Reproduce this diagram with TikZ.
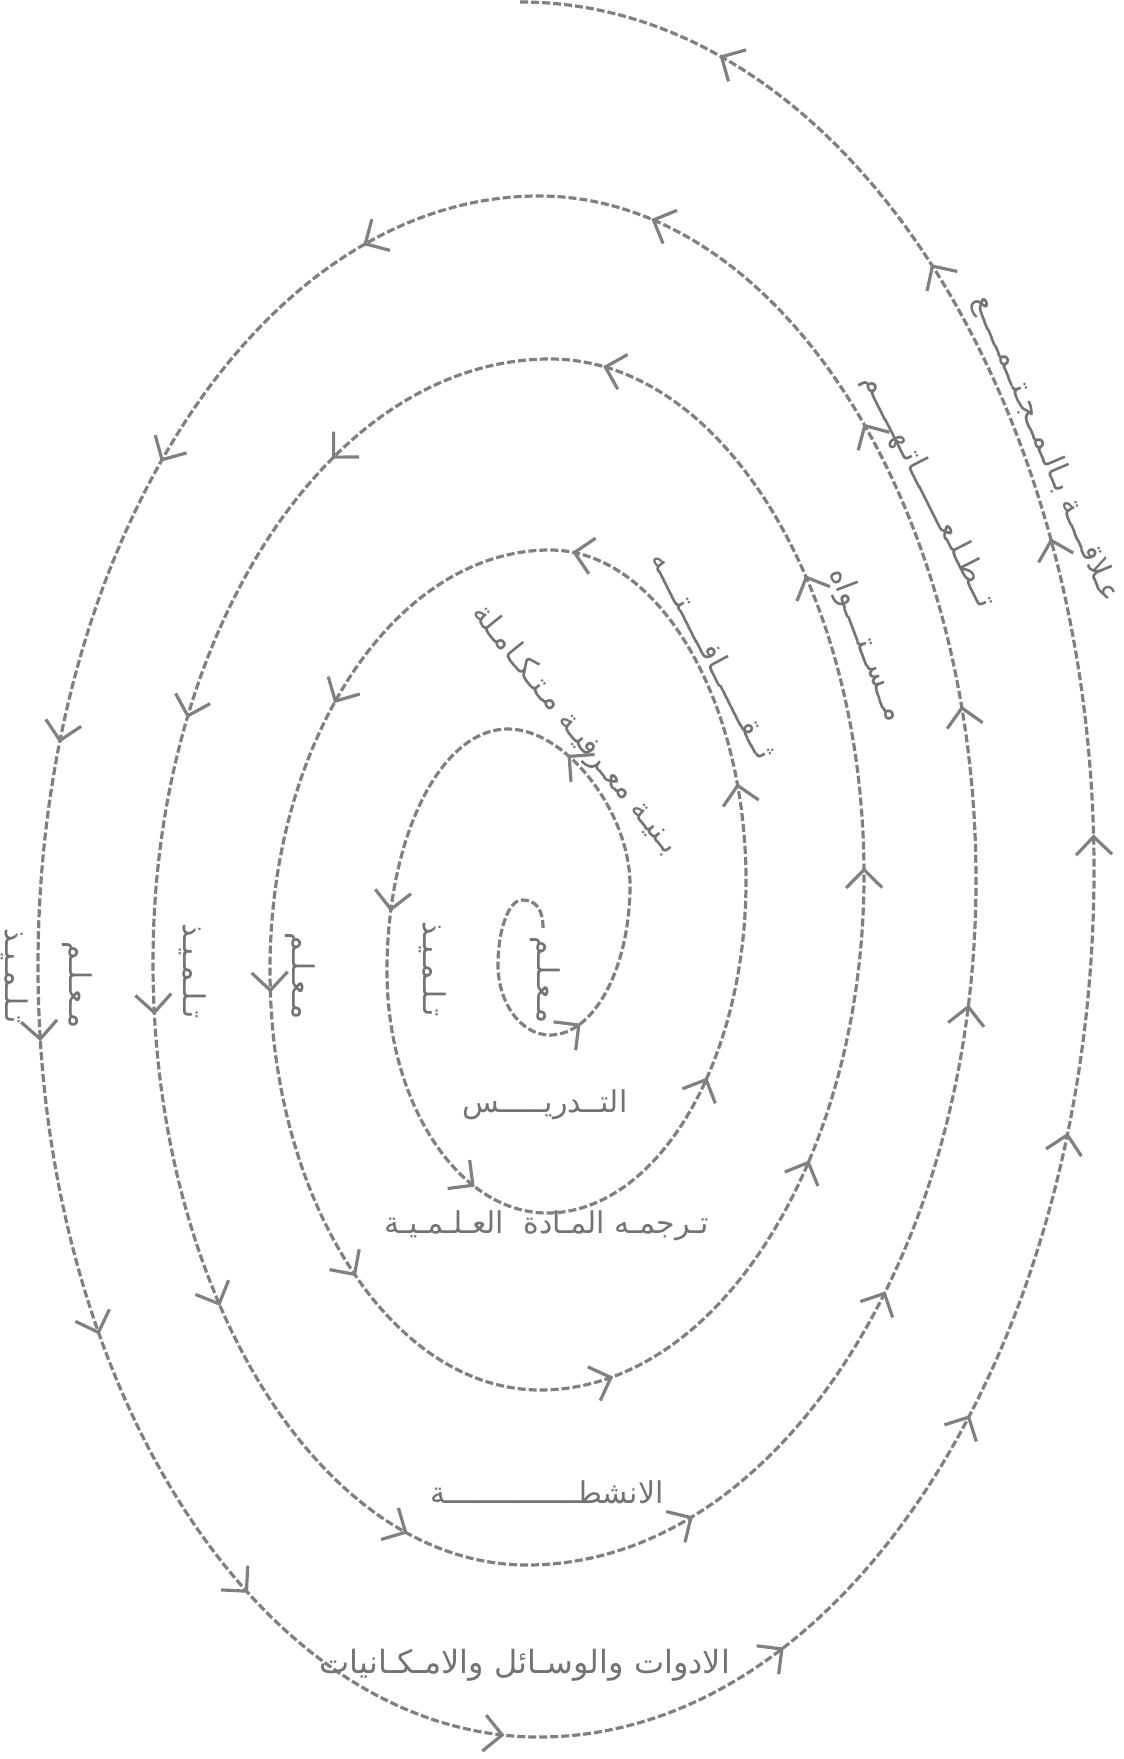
\documentclass[tikz,border=0pt]{standalone}
\usepackage{fontspec}
\newfontfamily\arabicfont[Script=Arabic]{DejaVu Sans}
\TeXXeTstate=1
\usetikzlibrary{arrows.meta,decorations.markings}

\begin{document}
\begin{tikzpicture}[x=0.5pt,y=0.5pt,
  turn/.style={black!50, line width=1.6pt, dash pattern=on 4pt off 1.5pt,
    postaction={decorate, solid, decoration={markings,
      mark=between positions 0.02 and 0.99 step 150pt with {\arrow{Straight Barb[length=9pt,width=18pt]}}}}},
  word/.style={text=black!55, inner sep=0pt, font=\arabicfont\fontsize{15}{18}\selectfont}]
\useasboundingbox (0,0) rectangle (1123,-1759);
\draw[turn] (543,-928) .. controls (543,-908) and (535,-900) .. (522,-900)
  .. controls (509,-900) and (498,-929) .. (498,-965)
  .. controls (498,-1003) and (521,-1035) .. (550,-1035)
  .. controls (594,-1035) and (630,-968) .. (630,-885)
  .. controls (630,-812) and (566,-729) .. (508,-729)
  .. controls (440,-729) and (387,-838) .. (387,-971)
  .. controls (387,-1104) and (459,-1213) .. (547,-1213)
  .. controls (656,-1213) and (746,-1064) .. (746,-881)
  .. controls (746,-699) and (658,-550) .. (550,-550)
  .. controls (396,-550) and (270,-739) .. (270,-970)
  .. controls (270,-1201) and (392,-1390) .. (540,-1390)
  .. controls (718,-1390) and (864,-1158) .. (864,-875)
  .. controls (864,-591) and (723,-359) .. (550,-359)
  .. controls (332,-359) and (153,-630) .. (153,-962)
  .. controls (153,-1294) and (321,-1565) .. (527,-1565)
  .. controls (774,-1565) and (976,-1257) .. (976,-880)
  .. controls (976,-504) and (779,-196) .. (539,-196)
  .. controls (263,-196) and (38,-542) .. (38,-966)
  .. controls (38,-1390) and (263,-1737) .. (539,-1737)
  .. controls (844,-1737) and (1094,-1347) .. (1094,-870)
  .. controls (1094,-393) and (839,-2) .. (520,-2);
\node[word, rotate=-90] (tilmidhA) at (15,-976) {\beginR تـلـمـيـذ\endR};
\node[word, rotate=-90] (muallimA) at (77,-985) {\beginR مـعـلـم\endR};
\node[word, rotate=-90] (tilmidhB) at (193,-971) {\beginR تـلـمـيـذ\endR};
\node[word, rotate=-90] (muallimB) at (300,-976) {\beginR مـعـلـم\endR};
\node[word, rotate=-90] (tilmidhC) at (433,-969) {\beginR تـلـمـيـذ\endR};
\node[word, rotate=-90] (muallimC) at (545,-980) {\beginR مـعـلـم\endR};
\node[word] (tadris) at (545,-1105) {\beginR التــدريـــــس\endR};
\node[word] (tarjama) at (547,-1226) {\beginR تـرجمـه المـادة \ العـلـمـيـة\endR};
\node[word] (anshita) at (547,-1492) {\beginR الانشطـــــــــــــــة\endR};
\node[word, font=\arabicfont\fontsize{16}{19}\selectfont] (adawat) at (525,-1665) {\beginR الادوات والوسـائل والامـكـانيات\endR};
\node[word, rotate=-67] (mujtama) at (1046,-449) {\beginR عـلاقــــة بـالـمــجـتــمـــــع\endR};
\node[word, rotate=-63] (tatallu) at (929,-491) {\beginR تــطـلـعـــــــاتـهـــــم\endR};
\node[word, rotate=-69] (mustawa) at (866,-645) {\beginR مــســتــــواه\endR};
\node[word, rotate=-62] (thaqafa) at (715,-655) {\beginR ثــقـــــــافـــــتــــه\endR};
\node[word, rotate=-51] (binya) at (575,-730) {\beginR بـنيـة معـرفيـة مـتـكـامـلة\endR};
\end{tikzpicture}
\end{document}
